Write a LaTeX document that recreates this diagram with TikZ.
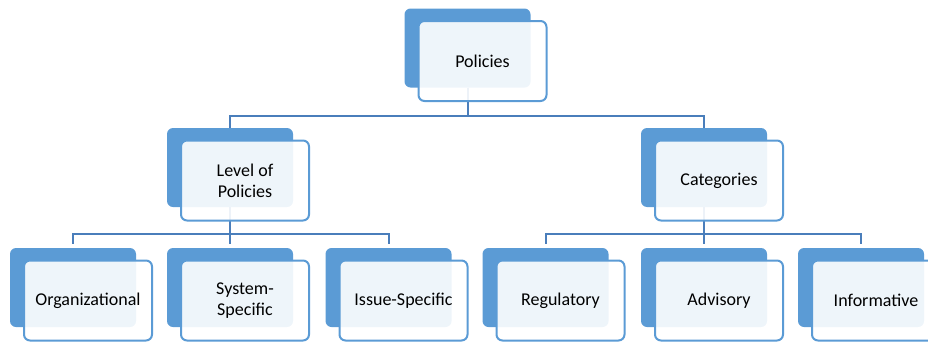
\documentclass[tikz,border=0pt]{standalone}
\usepackage{fontspec}
\setmainfont{Carlito}
\usetikzlibrary{positioning}

\definecolor{accent}{RGB}{91,155,213}
\definecolor{linkblue}{RGB}{74,126,187}

\begin{document}
\begin{tikzpicture}[node distance=120pt,on grid]
       \tikzstyle{back}=[rectangle, rounded corners=6pt, fill=accent, minimum width=126pt, minimum height=79pt, inner sep=0pt]
       \tikzstyle{front}=[rectangle, rounded corners=6pt, draw=accent, line width=2pt, fill=white, fill opacity=0.9, text opacity=1, minimum width=128pt, minimum height=80pt, inner sep=0pt, align=center, xshift=15pt, yshift=-13pt, font=\fontsize{18}{21}\selectfont]
       \tikzstyle{link}=[draw=linkblue, line width=2pt]

       \useasboundingbox (0,0) rectangle (928pt,-343pt);

       \node[back] (polb) at (467.5pt,-48pt) {};
       \node[back] (lvlb) [below left=119.5pt and 237.5pt of polb] {};
       \node[back] (catb) [below right=119.5pt and 236.5pt of polb] {};
       \node[back] (sysb) [below=of lvlb] {};
       \node[back] (orgb) [left=157pt of sysb] {};
       \node[back] (issb) [right=158.5pt of sysb] {};
       \node[back] (advb) [below=of catb] {};
       \node[back] (regb) [left=158.5pt of advb] {};
       \node[back] (infb) [right=157pt of advb] {};

       \path[link]
       (polb.south) -- ++(0,-28pt) -| (lvlb.north)
       (polb.south) -- ++(0,-28pt) -| (catb.north)
       (lvlb.south) -- ++(0,-27pt) -| ([yshift=4pt]orgb.north)
       (lvlb.south) -- ++(0,-27pt) -| ([yshift=4pt]sysb.north)
       (lvlb.south) -- ++(0,-27pt) -| ([yshift=4pt]issb.north)
       (catb.south) -- ++(0,-27pt) -| ([yshift=4pt]regb.north)
       (catb.south) -- ++(0,-27pt) -| ([yshift=4pt]advb.north)
       (catb.south) -- ++(0,-27pt) -| ([yshift=4pt]infb.north);

       \node[front] (pol) at (polb) {Policies};
       \node[front] (lvl) at (lvlb) {Level of\\Policies};
       \node[front] (cat) at (catb) {Categories};
       \node[front] (org) at (orgb) {Organizational};
       \node[front] (sys) at (sysb) {System-\\Specific};
       \node[front] (iss) at (issb) {Issue-Specific};
       \node[front] (reg) at (regb) {Regulatory};
       \node[front] (adv) at (advb) {Advisory};
       \node[front] (inf) at (infb) {Informative};

     \end{tikzpicture}
\end{document}
